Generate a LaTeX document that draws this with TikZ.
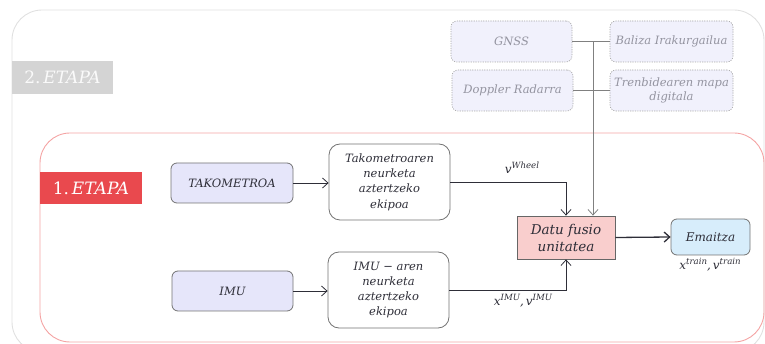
\documentclass[tikz,border=0pt]{standalone}
\usepackage{fontspec}
\setmainfont{DejaVu Serif}
\usetikzlibrary{arrows.meta}
\definecolor{outerc}{HTML}{E0E0E0}
\definecolor{redline}{HTML}{F4A3A3}
\definecolor{redfill}{HTML}{E9494E}
\definecolor{grayfill}{HTML}{D4D4D4}
\definecolor{lav}{HTML}{E6E6FA}
\definecolor{lavlight}{HTML}{F1F1FC}
\definecolor{pinkfill}{HTML}{F9CECD}
\definecolor{bluefill}{HTML}{D7EDFB}
\definecolor{txt}{HTML}{2E2E38}
\definecolor{lighttxt}{HTML}{9494A0}
\newcommand{\mysup}[1]{\raisebox{0.42em}{\fontsize{8.6}{9}\selectfont #1}}
\tikzset{
  base/.style={draw=black!55, line width=0.8pt, text=txt, font=\itshape\fontsize{11.5}{14}\selectfont, align=center, inner sep=0pt},
  srcbox/.style={base, fill=lav, rounded corners=6pt, minimum width=121pt, minimum height=40pt},
  procbox/.style={base, fill=white, rounded corners=11pt, minimum width=121pt, minimum height=76pt, font=\itshape\fontsize{11.5}{15.3}\selectfont},
  fusebox/.style={base, fill=pinkfill, draw=black!60, minimum width=98pt, minimum height=43pt, font=\itshape\fontsize{13.5}{17}\selectfont},
  resbox/.style={base, fill=bluefill, rounded corners=6pt, minimum width=79pt, minimum height=36pt, font=\itshape\fontsize{12}{14}\selectfont},
  optbox/.style={draw=black!35, dashed, dash pattern=on 1.2pt off 1.2pt, line width=0.6pt, fill=lavlight, rounded corners=6pt, minimum width=121pt, minimum height=41pt, text=lighttxt, font=\itshape\fontsize{11.5}{14}\selectfont, align=center, inner sep=0pt},
  stagelbl/.style={text=white, font=\fontsize{17}{18}\selectfont, inner sep=0pt},
  arr/.style={draw=txt, line width=0.8pt, -{Straight Barb[length=5.5pt,width=10pt]}},
  grayarr/.style={draw=black!50, line width=0.8pt, -{Straight Barb[length=5.5pt,width=10pt]}},
  grayline/.style={draw=black!50, line width=0.8pt},
  lbl/.style={text=txt, font=\itshape\fontsize{12}{12}\selectfont, inner sep=0pt}
}
\begin{document}
\begin{tikzpicture}[x=1pt,y=-1pt]
\useasboundingbox (0,0) rectangle (765,344);
% outer stage 2 frame
\draw[outerc, line width=0.9pt, rounded corners=30pt] (12,10) rectangle (764,352);
\node[fill=grayfill, minimum width=101pt, minimum height=33pt, inner sep=0pt] (s2) at (62.5,77.5) {};
\node[stagelbl, text=white!96!gray] at (s2) {2.\,\textit{ETAPA}};
% inner stage 1 frame
\draw[redline, line width=0.9pt, rounded corners=30pt] (40,133) rectangle (764,342);
\node[fill=redfill, minimum width=102pt, minimum height=32pt, inner sep=0pt] (s1) at (91,188) {};
\node[stagelbl] at (s1) {1.\,\textit{ETAPA}};
% top optional sensors
\node[optbox] (gnss) at (511.5,41.5) {GNSS};
\node[optbox, minimum width=123pt] (baliza) at (671.5,41.5) {Baliza Irakurgailua};
\node[optbox] (doppler) at (512.5,90.5) {Doppler Radarra};
\node[optbox, minimum width=123pt] (tren) at (671.5,90.5) {Trenbidearen mapa\\digitala};
% stage 1 nodes
\node[srcbox, minimum width=122pt] (tako) at (232,183) {TAKOMETROA};
\node[srcbox] (imu) at (232.5,291) {IMU};
\node[procbox] (takop) at (389.5,182) {Takometroaren\\neurketa\\aztertzeko\\ekipoa};
\node[procbox] (imup) at (388.5,290) {IMU − aren\\neurketa\\aztertzeko\\ekipoa};
\node[fusebox] (fuse) at (566,237.5) {Datu fusio\\unitatea};
\node[resbox] (res) at (710.5,237) {Emaitza};
% connectors
\draw[grayline] (gnss) -- (baliza);
\draw[grayline] (doppler) -- (tren);
\coordinate (j) at (593,41.5);
\draw[grayarr] (j) -- (j |- fuse.north);
\draw[arr] (tako.east) -- (tako.east -| takop.west);
\draw[arr] (imu.east) -- (imu.east -| imup.west);
\draw[arr] (takop.east) -| (fuse.north);
\draw[arr] (imup.east) -| (fuse.south);
\draw[arr, line width=1.3pt] (fuse.east) -- (res.west);
% labels
\node[lbl] (lw) at (522,168) {v\mysup{Wheel}};
\node[lbl] (li) at (523,301) {x\mysup{IMU},\,v\mysup{IMU}};
\node[lbl] (lt) at (710,265) {x\mysup{train},\,v\mysup{train}};
\end{tikzpicture}
\end{document}
